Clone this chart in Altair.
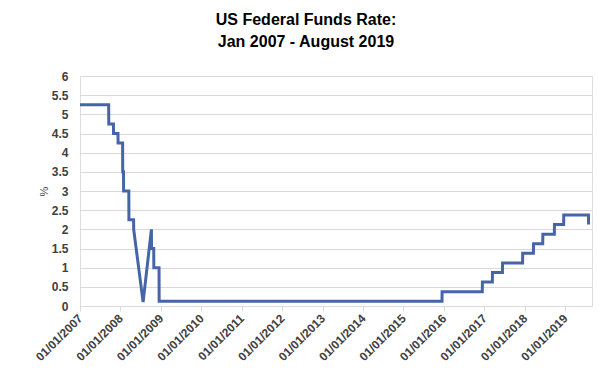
import altair as alt
import pandas as pd

# Rate changes (date, Fed funds target midpoint %); "step" = held previous value until the day before
change_dates = [
    "2007-01-01", "2007-09-18", "2007-10-31", "2007-12-11", "2008-01-22",
    "2008-01-30", "2008-03-18", "2008-04-30", "2008-07-24", "2008-10-07",
    "2008-10-08", "2008-10-29", "2008-12-16", "2015-12-16", "2016-12-14",
    "2017-03-15", "2017-06-14", "2017-12-13", "2018-03-21", "2018-06-13",
    "2018-09-26", "2018-12-19", "2019-07-31",
]
rates = [
    5.25, 4.75, 4.5, 4.25, 3.5,
    3.0, 2.25, 2.0, 0.1, 2.0,
    1.5, 1.0, 0.125, 0.375, 0.625,
    0.875, 1.125, 1.375, 1.625, 1.875,
    2.125, 2.375, 2.125,
]
is_step = [
    False, True, True, True, True,
    True, True, True, False, False,
    False, True, True, True, True,
    True, True, True, True, True,
    True, True, True,
]
year_ticks = list(range(2007, 2020))
y_ticks = [0, 0.5, 1, 1.5, 2, 2.5, 3, 3.5, 4, 4.5, 5, 5.5, 6]
title_lines = ["US Federal Funds Rate:", "Jan 2007 - August 2019"]

rows = []
for i, (d, v) in enumerate(zip(change_dates, rates)):
    ts = pd.Timestamp(d)
    if i > 0 and is_step[i]:
        rows.append({"date": (ts - pd.Timedelta(days=1)).strftime("%Y-%m-%d"), "rate": rates[i - 1]})
    rows.append({"date": ts.strftime("%Y-%m-%d"), "rate": v})
df = pd.DataFrame(rows)

FONT = "Liberation Sans"

chart = alt.Chart(df).mark_line(color="#4565A8", strokeWidth=3, strokeJoin="miter").encode(
    x=alt.X(
        "date:T",
        scale=alt.Scale(
            type="utc",
            domain=[alt.DateTime(year=2007, month=1, date=1, utc=True),
                    alt.DateTime(year=2019, month=8, date=31, utc=True)],
            nice=False,
        ),
        axis=alt.Axis(
            values=[alt.DateTime(year=y, month=1, date=1, utc=True) for y in year_ticks],
            labelExpr="utcFormat(datum.value, '%d/%m/%Y')",
            labelAngle=-45,
            labelAlign="right",
            labelBaseline="middle",
            labelPadding=5,
            labelFont=FONT,
            labelFontSize=12,
            labelFontWeight="bold",
            labelColor="#404040",
            grid=False,
            domainColor="#D9D9D9",
            tickColor="#D9D9D9",
            tickSize=5,
            title=None,
            labelOverlap=False,
        ),
    ),
    y=alt.Y(
        "rate:Q",
        scale=alt.Scale(domain=[0, 6], nice=False),
        axis=alt.Axis(
            values=y_ticks,
            format=".1~f",
            domain=False,
            ticks=False,
            labelPadding=12,
            labelFont=FONT,
            labelFontSize=12,
            labelFontWeight="bold",
            labelColor="#404040",
            gridColor="#D9D9D9",
            gridWidth=1,
            title="%",
            titleFont=FONT,
            titleFontSize=11,
            titleFontWeight="normal",
            titleColor="#404040",
            titleX=-36,
            titleY=115,
            titleAngle=-90,
            titleAlign="center",
            titleBaseline="middle",
        ),
    ),
).properties(
    width=512,
    height=230,
    title=alt.TitleParams(
        text=title_lines,
        font=FONT,
        fontSize=16,
        fontWeight="bold",
        color="#000000",
        anchor="middle",
        dx=-30,
        offset=20,
        lineHeight=22,
    ),
    autosize=alt.AutoSizeParams(type="none"),
    padding={"left": 72, "top": 68, "right": 13, "bottom": 69},
).configure_view(stroke=None).configure(background="white")

chart.save("out.html", embed_options={"renderer": "svg", "actions": False})
